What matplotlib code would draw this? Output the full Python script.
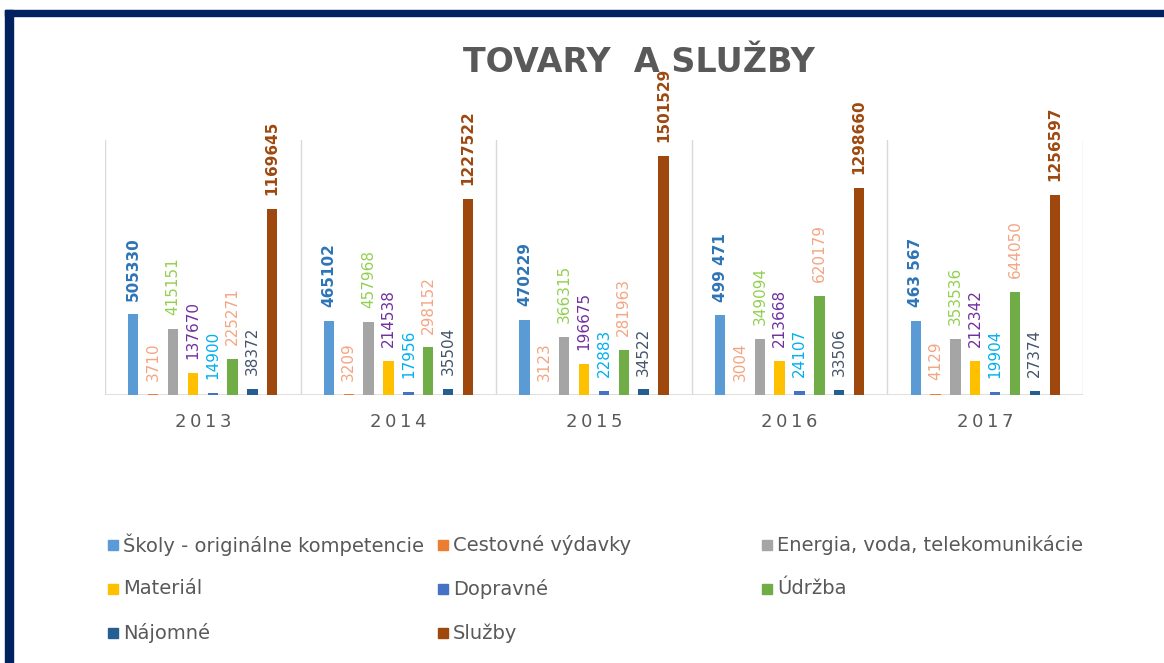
import matplotlib
matplotlib.use('Agg')
import matplotlib.pyplot as plt
from matplotlib.patches import Rectangle
import numpy as np

years = ['2013', '2014', '2015', '2016', '2017']
series = ['Školy - originálne kompetencie', 'Cestovné výdavky',
          'Energia, voda, telekomunikácie', 'Materiál', 'Dopravné',
          'Údržba', 'Nájomné', 'Služby']

skoly = [505330, 465102, 470229, 499471, 463567]
cestovne = [3710, 3209, 3123, 3004, 4129]
energia = [415151, 457968, 366315, 349094, 353536]
material = [137670, 214538, 196675, 213668, 212342]
dopravne = [14900, 17956, 22883, 24107, 19904]
udrzba = [225271, 298152, 281963, 620179, 644050]
najomne = [38372, 35504, 34522, 33506, 27374]
sluzby = [1169645, 1227522, 1501529, 1298660, 1256597]

# how the labels are printed (the 2016/2017 Školy ones have a gap)
skoly_txt = ['505330', '465102', '470229', '499 471', '463 567']

values = [skoly, cestovne, energia, material, dopravne, udrzba, najomne, sluzby]
bar_colors = ['#5B9BD5', '#ED7D31', '#A5A5A5', '#FFC000',
              '#4472C4', '#70AD47', '#255E91', '#9E480E']
lab_colors = ['#2E75B6', '#F4A582', '#92D050', '#7030A0',
              '#00B0F0', '#F4A582', '#44546A', '#9E480E']
lab_bold = [True, False, False, False, False, False, False, True]

W, H = 1164, 663
fig = plt.figure(figsize=(W / 100, H / 100), dpi=100)
ax = fig.add_axes([105 / W, 1 - 395 / H, (1083 - 105) / W, (395 - 140) / H])

x = np.arange(len(years))
step = 0.1015
bw = 0.053
for i, vals in enumerate(values):
    pos = x + (i - 3.5) * step
    ax.bar(pos, vals, width=bw, color=bar_colors[i], zorder=3)
    for j, v in enumerate(vals):
        txt = skoly_txt[j] if i == 0 else str(v)
        ax.annotate(txt, (pos[j], v), xytext=(0, 10), textcoords='offset points',
                    rotation=90, ha='center', va='bottom', fontsize=11,
                    color=lab_colors[i],
                    fontweight='bold' if lab_bold[i] else 'normal')

for b in np.arange(-0.5, len(years), 1.0):
    ax.axvline(b, color='#D9D9D9', lw=1, zorder=1)
ax.axhline(0, color='#D9D9D9', lw=1.2, zorder=2)

ax.set_xlim(-0.5, len(years) - 0.5)
ax.set_ylim(0, 1.6e6)
ax.set_yticks([])
ax.set_xticks(x)
ax.set_xticklabels(['\u2009'.join(y) for y in years], fontsize=13, color='#595959')
ax.tick_params(axis='x', length=0, pad=13)
for s in ax.spines.values():
    s.set_visible(False)

fig.text(639 / W, 1 - 62 / H, 'TOVARY  A SLUŽBY', ha='center', va='center',
         fontsize=24, fontweight='bold', color='#595959')

# legend, three fixed-width columns like the original
col_x = [108, 438, 762]
row_y = [545, 589, 633]
for k, name in enumerate(series):
    r, c = divmod(k, 3)
    px, py = col_x[c], row_y[r]
    fig.add_artist(Rectangle((px / W, 1 - (py + 5) / H), 10 / W, 10 / H,
                             transform=fig.transFigure, color=bar_colors[k]))
    fig.text((px + 15) / W, 1 - py / H, name, ha='left', va='center',
             fontsize=14, color='#595959')

# dark frame at top and left
navy = '#002060'
fig.add_artist(Rectangle((5 / W, 1 - 16 / H), 1 - 5 / W, 6 / H,
                         transform=fig.transFigure, color=navy))
fig.add_artist(Rectangle((5 / W, 0), 8 / W, 1 - 10 / H,
                         transform=fig.transFigure, color=navy))

fig.savefig('out.png', dpi=100)
